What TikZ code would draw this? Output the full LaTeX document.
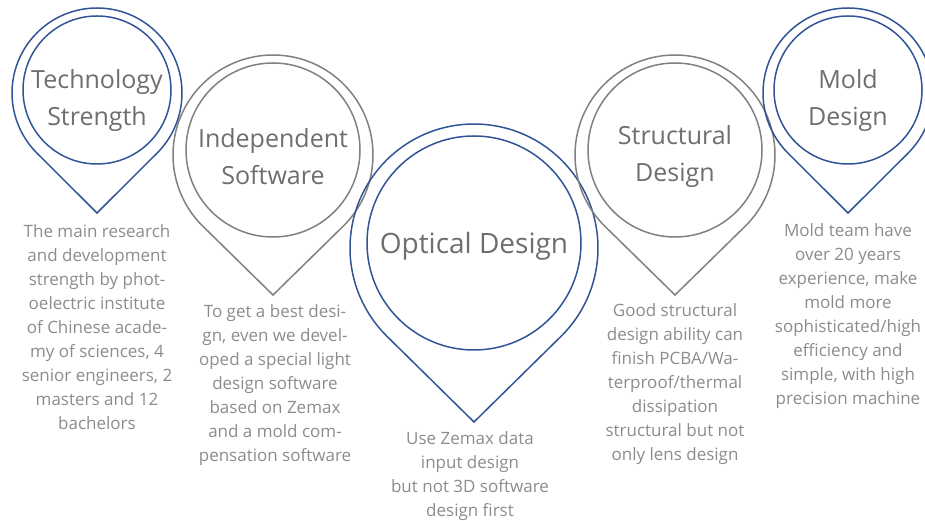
\documentclass[tikz,border=0pt]{standalone}
\usepackage{fontspec}
\setmainfont{Open Sans}
\usetikzlibrary{calc}
\definecolor{pinblue}{HTML}{2F5597}
\definecolor{pingray}{HTML}{808080}
\definecolor{titlegray}{HTML}{6E6E6E}
\definecolor{descgray}{HTML}{8C8C8C}
\newcommand\drawpin[6]{%
  \pgfmathsetmacro\pinalpha{acos(#4/(#3-#6))}%
  \draw[pinline,#1] (#5,#6) -- ($(#2,#3)+(-90+\pinalpha:#4pt)$)
    arc[start angle=-90+\pinalpha, end angle=270-\pinalpha, radius=#4pt] -- cycle;}
\tikzset{
  pinline/.style={line width=1.5pt, line join=miter},
  titletext/.style={text=titlegray, font=\fontsize{25}{37}\selectfont, align=center, inner sep=0pt},
  desctext/.style={text=descgray, font=\fontsize{17}{24}\selectfont, align=center, inner sep=0pt}
}
\begin{document}
\begin{tikzpicture}[x=1pt,y=1pt]
\useasboundingbox (0,0) rectangle (925,521);
% pins
\drawpin{pinblue}{97}{428}{85}{97}{308}
\draw[pinline,pinblue] (97,431) circle[radius=74pt];
\drawpin{pingray}{273}{366}{100}{273}{226}
\draw[pinline,pingray] (273,371) circle[radius=87pt];
\drawpin{pinblue}{474}{273}{124}{474}{99}
\draw[pinline,pinblue] (474,278) circle[radius=107pt];
\drawpin{pingray}{675}{366}{100}{675}{226}
\draw[pinline,pingray] (675,371) circle[radius=87pt];
\drawpin{pinblue}{848}{428}{85}{848}{308}
\draw[pinline,pinblue] (848,431) circle[radius=74pt];
% titles
\node[titletext] (t1) at (97,420) {Technology\\Strength};
\node[titletext] (t2) at (273,364) {Independent\\Software};
\node[titletext, font=\fontsize{28}{37}\selectfont] (t3) at (474,275) {Optical Design};
\node[titletext] (t4) at (675,364) {Structural\\Design};
\node[titletext] (t5) at (848,420) {Mold\\Design};
% descriptions
\node[desctext] (d1) at (97,194) {The main research\\and development\\strength by phot-\\oelectric institute\\of Chinese acade-\\my of sciences, 4\\senior engineers, 2\\masters and 12\\bachelors};
\node[desctext] (d2) at (275,136) {To get a best desi-\\gn, even we devel-\\oped a special light\\design software\\based on Zemax\\and a mold com-\\pensation software};
\node[desctext] (d3) at (470,45) {Use Zemax data\\input design\\but not 3D software\\design first};
\node[desctext] (d4) at (675,137) {Good structural\\design ability can\\finish PCBA/Wa-\\terproof/thermal\\dissipation\\structural but not\\only lens design};
\node[desctext] (d5) at (848,205) {Mold team have\\over 20 years\\experience, make\\mold more\\sophisticated/high\\efficiency and\\simple, with high\\precision machine};
\end{tikzpicture}
\end{document}
